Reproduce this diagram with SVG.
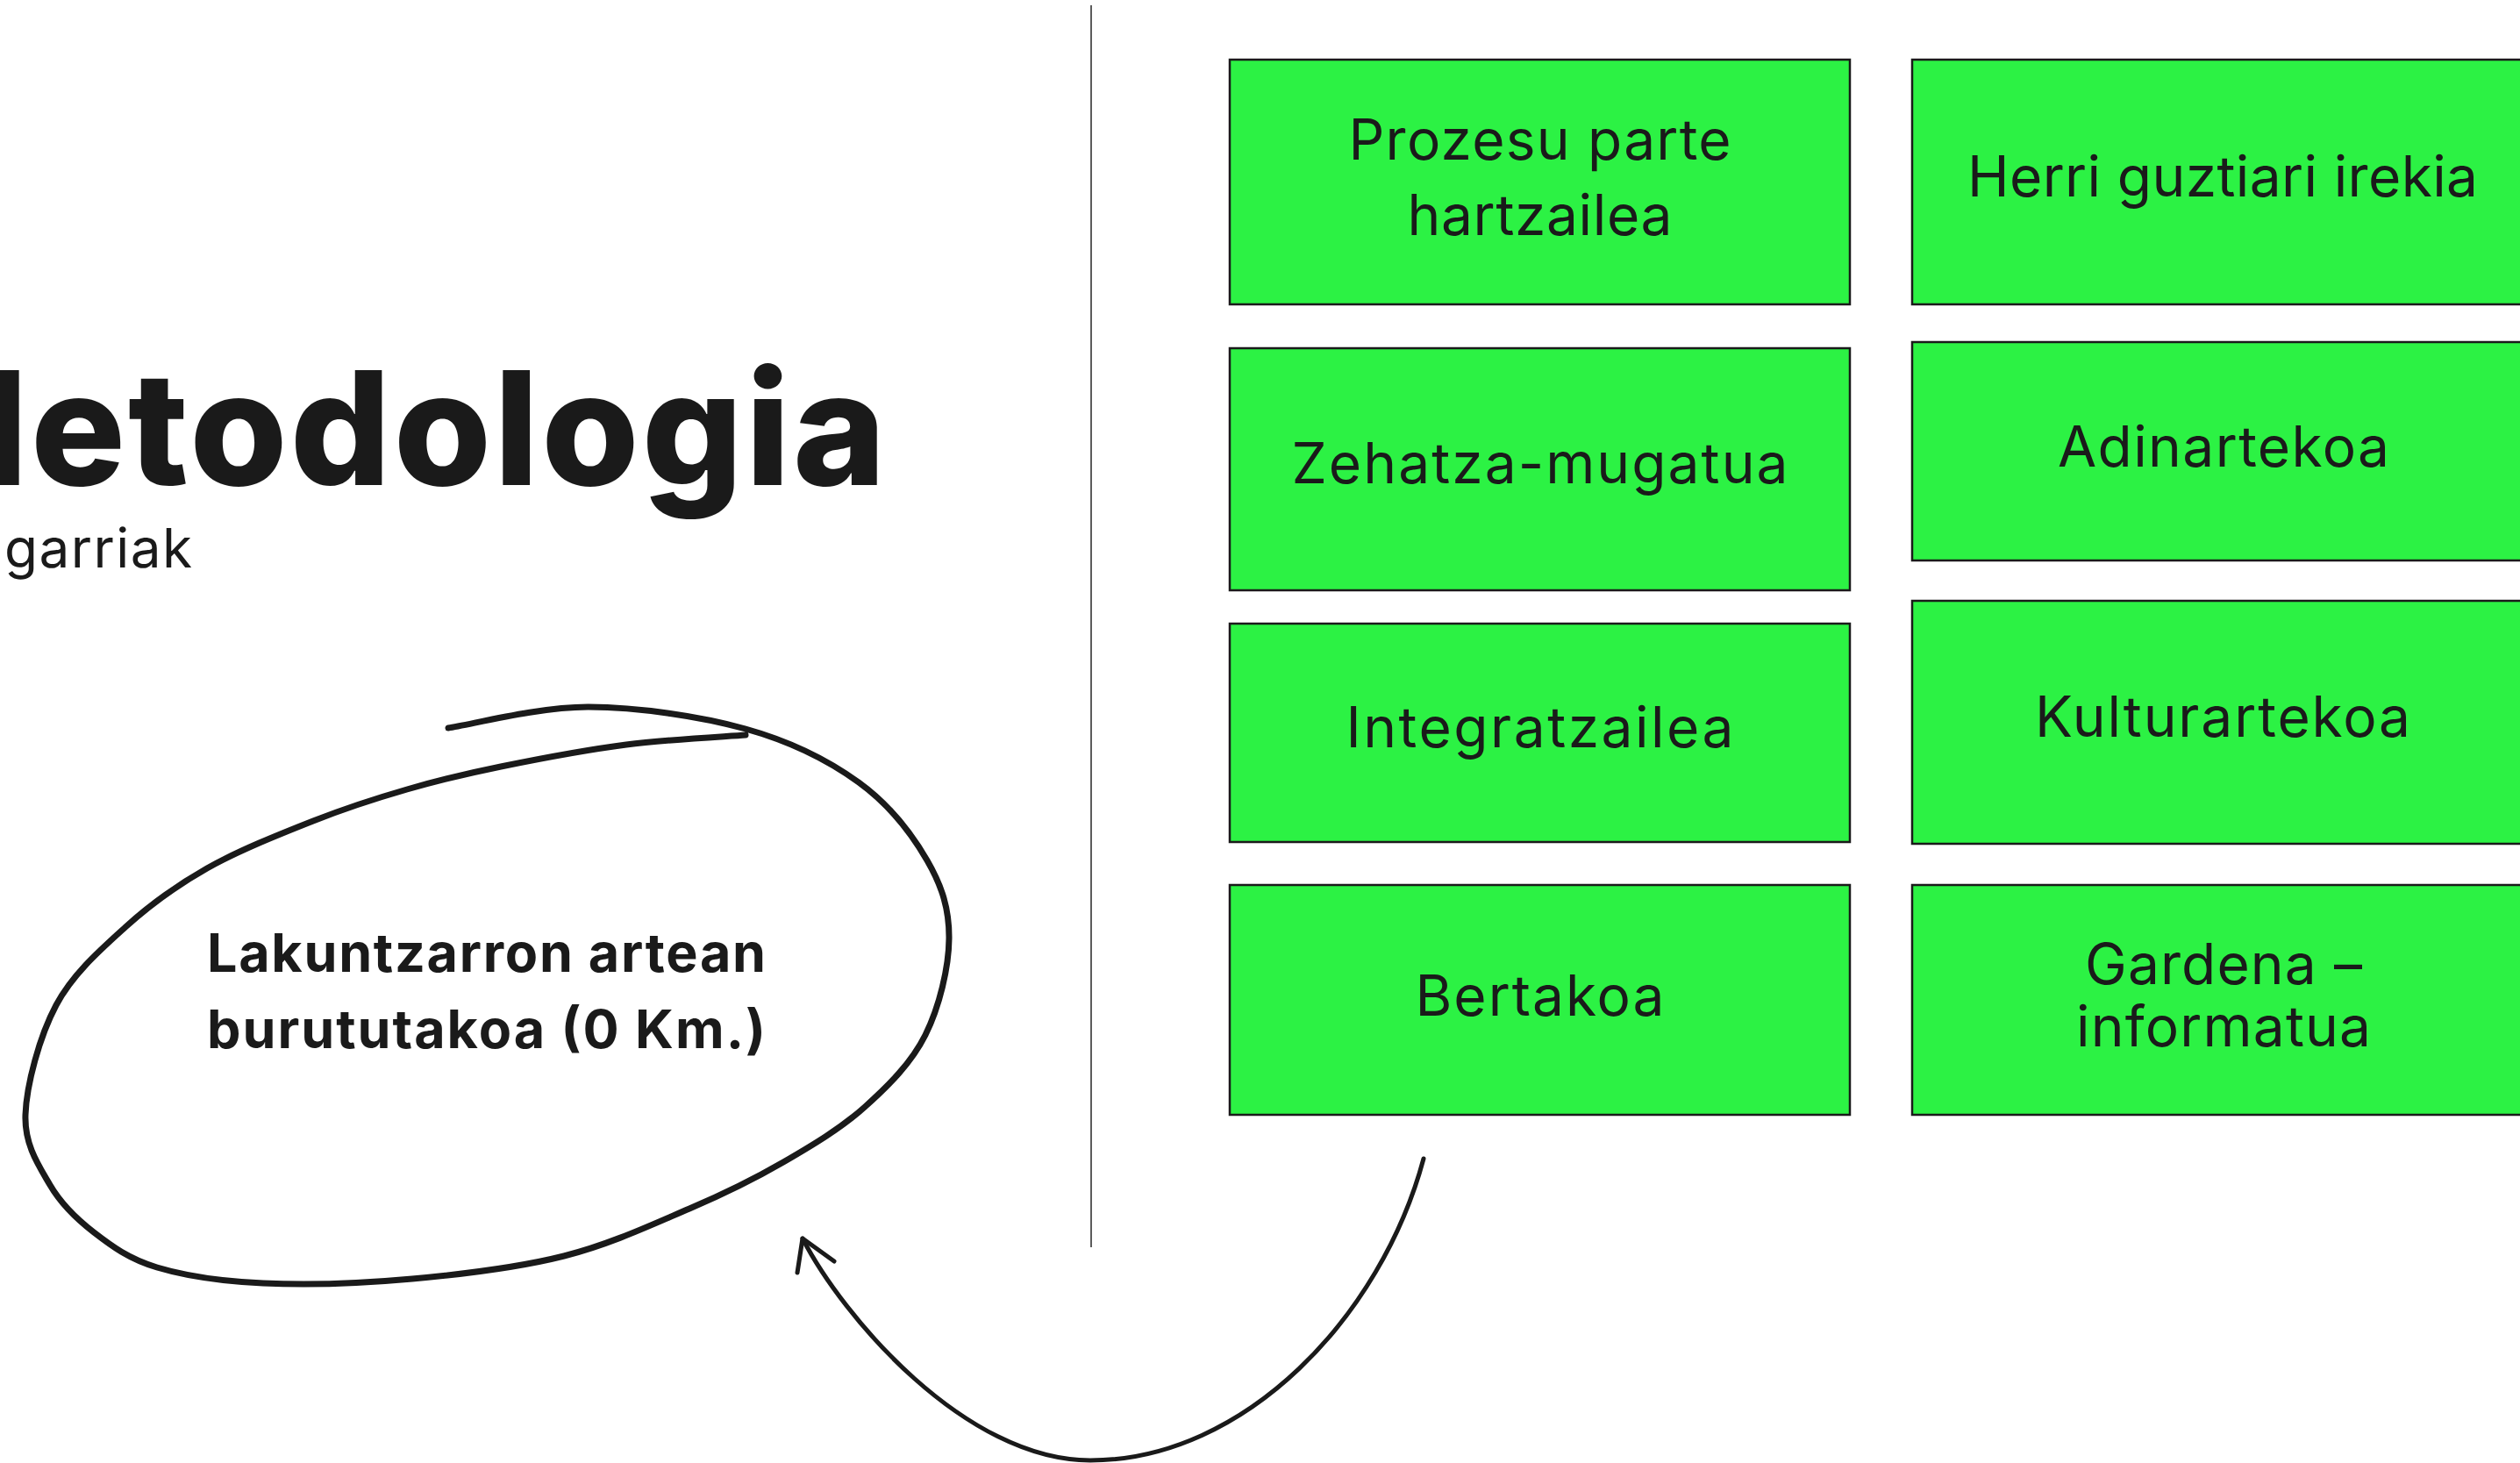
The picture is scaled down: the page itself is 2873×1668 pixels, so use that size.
<svg xmlns="http://www.w3.org/2000/svg" width="2873" height="1668" viewBox="0 0 2873 1668">
<style>
.box{fill:#2cf244;stroke:#1a1a1a;stroke-width:2.5}
.bt{font-family:Inter,"Liberation Sans",sans-serif;font-size:64px;fill:#1a1a1a;text-anchor:middle}
.et{font-family:Inter,"Liberation Sans",sans-serif;font-size:61px;font-weight:700;fill:#1a1a1a}
.title{font-family:Inter,"Liberation Sans",sans-serif;font-size:180px;font-weight:800;fill:#1a1a1a}
.sub{font-family:Inter,"Liberation Sans",sans-serif;font-size:62px;fill:#1a1a1a}
.ink{fill:none;stroke:#1a1a1a;stroke-linecap:round;stroke-linejoin:round}
</style>
<rect width="2873" height="1668" fill="#ffffff"/>
<g id="title">
<text class="title" x="-138" y="553" textLength="1148" lengthAdjust="spacing">Metodologia</text>
<text class="sub" x="5" y="647" textLength="214" lengthAdjust="spacing">garriak</text>
</g>
<line id="divider" x1="1244" y1="6" x2="1244" y2="1422" stroke="#333333" stroke-width="1.6"/>
<g id="n1"><rect class="box" x="1402" y="68" width="707" height="279"/><text class="bt" x="1755.5" y="182" textLength="436" lengthAdjust="spacing">Prozesu parte</text><text class="bt" x="1755.5" y="268" textLength="302" lengthAdjust="spacing">hartzailea</text></g>
<g id="n2"><rect class="box" x="2180" y="68" width="707" height="279"/><text class="bt" x="2534" y="224" textLength="582" lengthAdjust="spacing">Herri guztiari irekia</text></g>
<g id="n3"><rect class="box" x="1402" y="397" width="707" height="276"/><text class="bt" x="1755.5" y="551" textLength="566" lengthAdjust="spacing">Zehatza-mugatua</text></g>
<g id="n4"><rect class="box" x="2180" y="390" width="707" height="249"/><text class="bt" x="2535" y="532" textLength="378" lengthAdjust="spacing">Adinartekoa</text></g>
<g id="n5"><rect class="box" x="1402" y="711" width="707" height="249"/><text class="bt" x="1755.5" y="852" textLength="442" lengthAdjust="spacing">Integratzailea</text></g>
<g id="n6"><rect class="box" x="2180" y="685" width="707" height="277"/><text class="bt" x="2534" y="840" textLength="428" lengthAdjust="spacing">Kulturartekoa</text></g>
<g id="n7"><rect class="box" x="1402" y="1009" width="707" height="262"/><text class="bt" x="1755.5" y="1158" textLength="284" lengthAdjust="spacing">Bertakoa</text></g>
<g id="n8"><rect class="box" x="2180" y="1009" width="707" height="262"/><text class="bt" x="2535" y="1122" textLength="316" lengthAdjust="spacing">Gardena –</text><text class="bt" x="2535" y="1193" textLength="336" lengthAdjust="spacing">informatua</text></g>
<g id="ellipse-node">
<path class="ink" stroke-width="7" d="M511,830 C537.7,826 614.5,805.8 671,806 C727.5,806.2 798.7,816.7 850,831 C901.3,845.3 944.5,867 979,892 C1013.5,917 1039.8,951.3 1057,981 C1074.2,1010.7 1082.3,1036.8 1082,1070 C1081.7,1103.2 1071,1148 1055,1180 C1039,1212 1013,1237.8 986,1262 C959,1286.2 926.3,1305.7 893,1325 C859.7,1344.3 827.7,1360.2 786,1378 C744.3,1395.8 695.7,1418.7 643,1432 C590.3,1445.3 527.2,1452.8 470,1458 C412.8,1463.2 348.5,1465.2 300,1463 C251.5,1460.8 211.2,1454.7 179,1445 C146.8,1435.3 127.3,1420.7 107,1405 C86.7,1389.3 70,1373.3 57,1351 C44,1328.7 27.8,1305.2 29,1271 C30.2,1236.8 45,1181.7 64,1146 C83,1110.3 114.3,1083 143,1057 C171.7,1031 200.3,1010.2 236,990 C271.7,969.8 319,951 357,936 C395,921 428.3,910.3 464,900 C499.7,889.7 529.3,882.5 571,874 C612.7,865.5 667.5,855 714,849 C760.5,843 827.3,839.8 850,838"/>
<text class="et" x="236" y="1108" textLength="637" lengthAdjust="spacing">Lakuntzarron artean</text>
<text class="et" x="236" y="1195" textLength="637" lengthAdjust="spacing">burututakoa (0 Km.)</text>
</g>
<g id="connectors">
<path class="ink" stroke-width="5" d="M1623,1321 C1575,1500 1420,1665 1243,1665 C1100,1665 960,1500 915,1412"/>
<path class="ink" stroke-width="5" d="M909,1451 L915,1412 L951,1438"/>
</g>
</svg>
